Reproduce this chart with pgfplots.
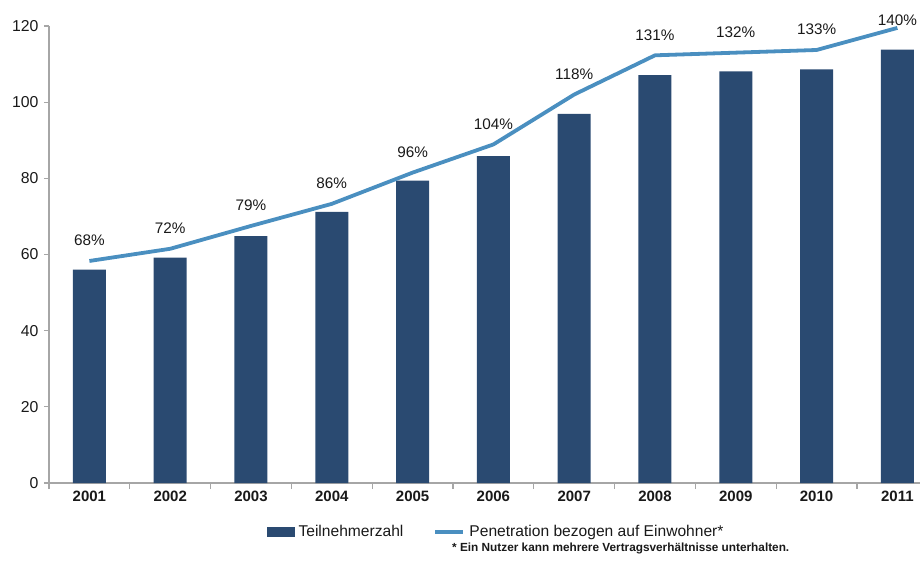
\documentclass[border=0pt]{standalone}
\usepackage{pgfplots}
\pgfplotsset{compat=1.18}
\usepackage{pgfplotstable}
\usepackage{fontspec}
\setmainfont{Liberation Sans}
\definecolor{barblue}{RGB}{42,74,113}
\definecolor{lineblue}{RGB}{74,143,192}
\definecolor{axgray}{RGB}{166,166,166}
\definecolor{txt}{RGB}{25,25,25}

\pgfplotstableread{
x year bar line pct dy
0 2001 56.0 58.3 68 13
1 2002 59.2 61.5 72 13
2 2003 64.8 67.5 79 13
3 2004 71.2 73.3 86 13
4 2005 79.4 81.5 96 13
5 2006 85.8 88.9 104 13
6 2007 96.9 102.0 118 13
7 2008 107.1 112.3 131 13
8 2009 108.1 113.0 132 13
9 2010 108.6 113.7 133 13
10 2011 113.8 119.5 140 0
}\data

\begin{document}
\begin{tikzpicture}
\begin{axis}[
  scale only axis, width=871bp, height=457bp,
  xmin=-0.5, xmax=10.28, ymin=0, ymax=120,
  clip=false,
  axis x line=bottom, axis y line=left,
  x axis line style={-}, y axis line style={-},
  axis line style={axgray, line width=1.2bp},
  tick style={axgray, line width=1.2bp},
  tick align=outside,
  major tick length=5bp,
  minor tick length=6bp,
  xtick={0,...,10},
  xticklabels={2001,2002,2003,2004,2005,2006,2007,2008,2009,2010,2011},
  major x tick style={draw=none},
  minor xtick={-0.5,0.5,...,9.5},
  ytick={0,20,...,120},
  /pgf/number format/assume math mode=true,
  yticklabel style={font=\fontsize{15.8bp}{18bp}\selectfont, text=txt, xshift=-2bp},
  xticklabel style={font=\bfseries\fontsize{15bp}{18bp}\selectfont, text=txt},
  legend style={at={(0.2495,-0.107)}, anchor=west, draw=none, fill=none,
    inner sep=0pt, font=\fontsize{15.6bp}{18bp}\selectfont, text=txt,
    cells={anchor=west}, nodes={inner xsep=4bp}},
  legend columns=2,
  legend cell align=left,
  /tikz/every even column/.append style={column sep=26bp},
]
\addplot[ybar, bar shift=0pt, bar width=33bp, fill=barblue, draw=none,
  legend image code/.code={\fill[barblue] (0bp,-5bp) rectangle (28bp,5bp);}]
  table[x=x, y=bar] {\data};
\addlegendentry{Teilnehmerzahl}
\addplot[lineblue, line width=3.8bp, no marks, line join=round,
  nodes near coords={\pgfplotspointmeta\%},
  point meta=explicit symbolic,
  visualization depends on={\thisrow{dy} \as \dy},
  every node near coord/.append style={anchor=south, inner sep=0pt, yshift=\dy bp,
     font=\fontsize{15.3bp}{18bp}\selectfont, text=txt},
  legend image code/.code={\draw[lineblue, line width=4bp] (0bp,0bp) -- (28bp,0bp);}]
  table[x=x, y=line, meta=pct] {\data};
\addlegendentry{Penetration bezogen auf Einwohner*}
\node[anchor=west, inner sep=0pt, font=\bfseries\fontsize{11.8bp}{13bp}\selectfont, text=txt]
  at (rel axis cs:0.4627,-0.1422) {* Ein Nutzer kann mehrere Vertragsverhältnisse unterhalten.};
\coordinate (ll) at (rel axis cs:0,0);
\coordinate (ur) at (rel axis cs:1,1);
\end{axis}
\pgfresetboundingbox
\path ([xshift=-49bp,yshift=-78bp]ll) rectangle ([yshift=26bp]ur);
\end{tikzpicture}
\end{document}
